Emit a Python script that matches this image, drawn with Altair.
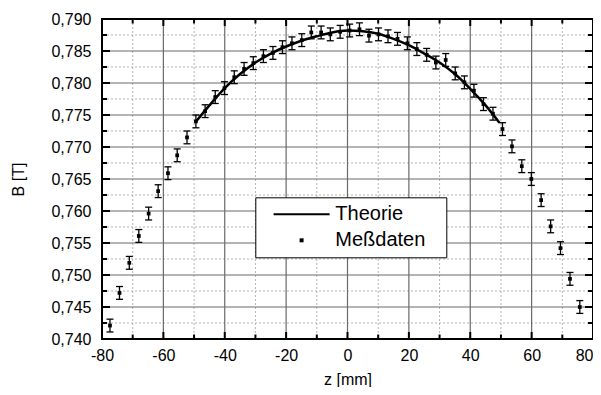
import altair as alt
import pandas as pd

z_mm = [-77.4, -74.3, -71.1, -68.0, -64.8, -61.7, -58.5, -55.5, -52.3, -49.4,
        -46.4, -43.1, -40.1, -36.9, -33.7, -30.7, -27.4, -24.3, -21.2, -18.1,
        -14.9, -11.8, -8.6, -5.6, -2.4, 0.7, 3.9, 7.0, 10.1, 13.2,
        16.3, 19.5, 22.6, 25.8, 28.8, 32.0, 35.1, 38.1, 41.2, 44.3,
        47.4, 50.5, 53.6, 56.8, 59.9, 63.1, 66.2, 69.4, 72.5, 75.7]
B_T = [0.7421, 0.7472, 0.7519, 0.7561, 0.7596, 0.7631, 0.7659, 0.7687, 0.7715, 0.7740,
       0.7756, 0.7778, 0.7792, 0.7809, 0.7822, 0.7831, 0.7842, 0.7847, 0.7856, 0.7862,
       0.7867, 0.7879, 0.7879, 0.7876, 0.7880, 0.7882, 0.7884, 0.7874, 0.7876, 0.7873,
       0.7869, 0.7862, 0.7853, 0.7844, 0.7832, 0.7836, 0.7815, 0.7801, 0.7788, 0.7767,
       0.7752, 0.7728, 0.7701, 0.7670, 0.7650, 0.7617, 0.7576, 0.7542, 0.7494, 0.7450]
ERR_T = 0.001

# theory curve
theory_z = [-49.5, -45, -40, -35, -30, -25, -20, -15, -10, -5, 0,
            5, 10, 15, 20, 25, 30, 35, 40, 45, 49.5]
theory_B = [0.7739, 0.7765, 0.7792, 0.7814, 0.7832, 0.7846, 0.7857, 0.7866, 0.7873, 0.7879, 0.7882,
            0.7881, 0.7877, 0.7869, 0.7859, 0.7846, 0.7832, 0.7814, 0.7791, 0.7765, 0.7738]

# axis ticks / grid positions
x_major = [-80, -60, -40, -20, 0, 20, 40, 60, 80]
x_minor = [-70, -50, -30, -10, 10, 30, 50, 70]
y_major = [0.740, 0.745, 0.750, 0.755, 0.760, 0.765, 0.770, 0.775, 0.780, 0.785, 0.790]
y_minor = [0.7425, 0.7475, 0.7525, 0.7575, 0.7625, 0.7675, 0.7725, 0.7775, 0.7825, 0.7875]
x_inner = [-60, -40, -20, 0, 20, 40, 60]
y_inner = [0.745, 0.750, 0.755, 0.760, 0.765, 0.770, 0.775, 0.780, 0.785]

legend_labels = ["Theorie", "Meßdaten"]
legend_shapes = ["M-14,0H14", "M-0.5,-0.5H0.5V0.5H-0.5Z"]

FONT = "Liberation Sans"

meas = pd.DataFrame({"z": z_mm, "B": B_T})
meas["err"] = ERR_T
theo = pd.DataFrame({"z": theory_z, "B": theory_B})

xs = alt.Scale(domain=[-80, 80], nice=False, zero=False)
ys = alt.Scale(domain=[0.74, 0.79], nice=False, zero=False)

x_axis = alt.Axis(
    values=x_major,
    title="z [mm]", titleFontSize=16, titleFontWeight="normal", titleColor="black",
    titleY=40, titleBaseline="middle",
    labelExpr="replace(datum.label, '\u2212', '-')",
    labelFontSize=16, labelColor="black", labelPadding=8, labelFlush=False,
    labelOverlap=False, labelBound=False,
    labelAlign={"condition": {"test": "datum.value >= 80", "value": "right"}, "value": "center"},
    ticks=False, tickSize=0, domain=False, grid=False,
)
y_axis = alt.Axis(
    values=y_major,
    title="B [T]", titleFontSize=16, titleFontWeight="normal", titleColor="black",
    titleX=-84, titleY=160, titleBaseline="middle", titleAlign="center",
    labelExpr="replace(format(datum.value, '.3f'), '.', ',')",
    labelFontSize=16, labelColor="black", labelPadding=11, labelFlush=False,
    labelOverlap=False, labelBound=False,
    ticks=False, tickSize=0, domain=False, grid=False,
)

def X(field):
    return alt.X(field, type="quantitative", scale=xs, axis=x_axis)

def Y(field):
    return alt.Y(field, type="quantitative", scale=ys, axis=y_axis)

# grid lines
def vgrid(vals, color, dash, width):
    return alt.Chart(pd.DataFrame({"z": vals})).mark_rule(
        color=color, strokeDash=dash, strokeWidth=width
    ).encode(x=X("z"))

def hgrid(vals, color, dash, width):
    return alt.Chart(pd.DataFrame({"B": vals})).mark_rule(
        color=color, strokeDash=dash, strokeWidth=width
    ).encode(y=Y("B"))

grid = [
    vgrid(x_minor, "#b4b4b4", [2, 2], 1), hgrid(y_minor, "#b4b4b4", [2, 2], 1),
    vgrid(x_inner, "#6a6a6a", [1, 0], 1.2), hgrid(y_inner, "#6a6a6a", [1, 0], 1.2),
]

theory = alt.Chart(theo).mark_line(color="black", strokeWidth=2.5, interpolate="monotone").encode(
    x=X("z"), y=Y("B"),
)

base_m = alt.Chart(meas).transform_calculate(
    lo="datum.B - datum.err", hi="datum.B + datum.err"
)
err_rule = base_m.mark_rule(color="black", strokeWidth=1.3).encode(
    x=X("z"), y=Y("lo"), y2="hi:Q",
)
cap_lo = base_m.mark_tick(color="black", orient="horizontal", size=7, thickness=1.3, opacity=1).encode(
    x=X("z"), y=Y("lo"),
)
cap_hi = base_m.mark_tick(color="black", orient="horizontal", size=7, thickness=1.3, opacity=1).encode(
    x=X("z"), y=Y("hi"),
)
points = alt.Chart(meas).mark_square(color="black", size=14, opacity=1).encode(
    x=X("z"), y=Y("B"),
)

# inward axis ticks on all four sides
def xticks(vals, size, edge):
    return alt.Chart(pd.DataFrame({"z": vals, "B": edge})).mark_tick(
        color="black", orient="vertical", size=size, thickness=2, clip=True, opacity=1
    ).encode(x=X("z"), y=Y("B"))

def yticks(vals, size, edge):
    return alt.Chart(pd.DataFrame({"B": vals, "z": edge})).mark_tick(
        color="black", orient="horizontal", size=size, thickness=2, clip=True, opacity=1
    ).encode(y=Y("B"), x=X("z"))

ticks = [
    xticks(x_major, 14, 0.74), xticks(x_minor, 9, 0.74),
    xticks(x_major, 14, 0.79), xticks(x_minor, 9, 0.79),
    yticks(y_major, 16, -80), yticks(y_minor, 10, -80),
    yticks(y_major, 16, 80), yticks(y_minor, 10, 80),
]

legend_layer = alt.Chart(pd.DataFrame({"series": legend_labels})).transform_filter(
    "false"
).mark_point(color="black", filled=False, strokeWidth=2, opacity=1).encode(
    shape=alt.Shape(
        "series:N",
        scale=alt.Scale(domain=legend_labels, range=legend_shapes),
        legend=alt.Legend(
            title="\u00a0", titleOrient="right", titlePadding=14, titleFontSize=8,
            orient="none", legendX=153.3, legendY=178.3,
            padding=7, fillColor="white", strokeColor="black",
            symbolSize=16, symbolStrokeWidth=2, symbolStrokeColor="black",
            symbolOpacity=1,
            symbolOffset=29.3, labelOffset=23.7, labelFontSize=20, labelFont=FONT,
            labelColor="black", rowPadding=6, labelLimit=300,
        ),
    )
)

chart = alt.layer(
    *grid, theory, err_rule, cap_lo, cap_hi, points, *ticks, legend_layer
).properties(
    width=491, height=320,
    autosize=alt.AutoSizeParams(type="none"),
    padding={"left": 94, "top": 11, "right": 0, "bottom": 48},
).configure(
    font=FONT,
).configure_view(
    stroke="black", strokeWidth=2,
)

chart.save("out.html", embed_options={"renderer": "svg", "actions": False})
